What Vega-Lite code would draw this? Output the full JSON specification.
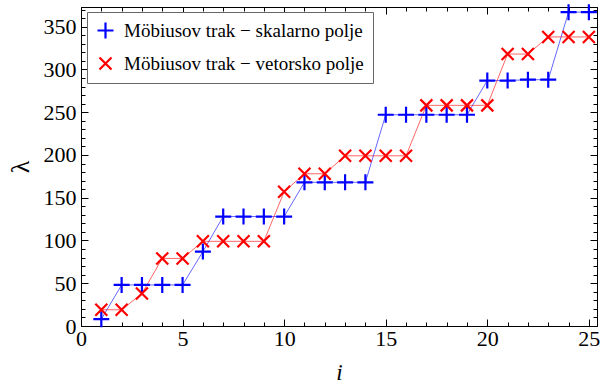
{
  "$schema": "https://vega.github.io/schema/vega-lite/v6.json",
  "width": 516,
  "height": 319,
  "autosize": "none",
  "padding": {"left": 81, "top": 7, "right": 4, "bottom": 59},
  "background": "white",
  "config": {
    "view": {"stroke": "black", "strokeWidth": 1},
    "font": "Liberation Serif",
    "axis": {
      "domainColor": "black",
      "tickColor": "black",
      "labelColor": "black",
      "titleColor": "black",
      "labelFont": "Liberation Serif",
      "titleFont": "Liberation Serif",
      "labelFontSize": 22,
      "titleFontWeight": "normal",
      "grid": false
    },
    "legend": {
      "orient": "none", "legendX": 6, "legendY": 5,
      "labelFont": "Liberation Serif", "labelFontSize": 19, "labelColor": "black",
      "labelLimit": 400,
      "fillColor": "white", "strokeColor": "#666666",
      "padding": 9, "rowPadding": 10, "labelOffset": 9,
      "symbolSize": 256, "symbolStrokeWidth": 2.2
    }
  },
  "data": {
    "values": [
      {"i": 1, "lambda": 8, "series": "Möbiusov trak − skalarno polje"},
      {"i": 2, "lambda": 48, "series": "Möbiusov trak − skalarno polje"},
      {"i": 3, "lambda": 48, "series": "Möbiusov trak − skalarno polje"},
      {"i": 4, "lambda": 48, "series": "Möbiusov trak − skalarno polje"},
      {"i": 5, "lambda": 48, "series": "Möbiusov trak − skalarno polje"},
      {"i": 6, "lambda": 87, "series": "Möbiusov trak − skalarno polje"},
      {"i": 7, "lambda": 128, "series": "Möbiusov trak − skalarno polje"},
      {"i": 8, "lambda": 128, "series": "Möbiusov trak − skalarno polje"},
      {"i": 9, "lambda": 128, "series": "Möbiusov trak − skalarno polje"},
      {"i": 10, "lambda": 128, "series": "Möbiusov trak − skalarno polje"},
      {"i": 11, "lambda": 168, "series": "Möbiusov trak − skalarno polje"},
      {"i": 12, "lambda": 168, "series": "Möbiusov trak − skalarno polje"},
      {"i": 13, "lambda": 168, "series": "Möbiusov trak − skalarno polje"},
      {"i": 14, "lambda": 168, "series": "Möbiusov trak − skalarno polje"},
      {"i": 15, "lambda": 247, "series": "Möbiusov trak − skalarno polje"},
      {"i": 16, "lambda": 247, "series": "Möbiusov trak − skalarno polje"},
      {"i": 17, "lambda": 247, "series": "Möbiusov trak − skalarno polje"},
      {"i": 18, "lambda": 247, "series": "Möbiusov trak − skalarno polje"},
      {"i": 19, "lambda": 247, "series": "Möbiusov trak − skalarno polje"},
      {"i": 20, "lambda": 287, "series": "Möbiusov trak − skalarno polje"},
      {"i": 21, "lambda": 287, "series": "Möbiusov trak − skalarno polje"},
      {"i": 22, "lambda": 288, "series": "Möbiusov trak − skalarno polje"},
      {"i": 23, "lambda": 288, "series": "Möbiusov trak − skalarno polje"},
      {"i": 24, "lambda": 367, "series": "Möbiusov trak − skalarno polje"},
      {"i": 25, "lambda": 367, "series": "Möbiusov trak − skalarno polje"},
      {"i": 1, "lambda": 19, "series": "Möbiusov trak − vetorsko polje"},
      {"i": 2, "lambda": 19, "series": "Möbiusov trak − vetorsko polje"},
      {"i": 3, "lambda": 38, "series": "Möbiusov trak − vetorsko polje"},
      {"i": 4, "lambda": 79, "series": "Möbiusov trak − vetorsko polje"},
      {"i": 5, "lambda": 79, "series": "Möbiusov trak − vetorsko polje"},
      {"i": 6, "lambda": 99, "series": "Möbiusov trak − vetorsko polje"},
      {"i": 7, "lambda": 99, "series": "Möbiusov trak − vetorsko polje"},
      {"i": 8, "lambda": 99, "series": "Möbiusov trak − vetorsko polje"},
      {"i": 9, "lambda": 99, "series": "Möbiusov trak − vetorsko polje"},
      {"i": 10, "lambda": 157, "series": "Möbiusov trak − vetorsko polje"},
      {"i": 11, "lambda": 178, "series": "Möbiusov trak − vetorsko polje"},
      {"i": 12, "lambda": 178, "series": "Möbiusov trak − vetorsko polje"},
      {"i": 13, "lambda": 199, "series": "Möbiusov trak − vetorsko polje"},
      {"i": 14, "lambda": 199, "series": "Möbiusov trak − vetorsko polje"},
      {"i": 15, "lambda": 199, "series": "Möbiusov trak − vetorsko polje"},
      {"i": 16, "lambda": 199, "series": "Möbiusov trak − vetorsko polje"},
      {"i": 17, "lambda": 258, "series": "Möbiusov trak − vetorsko polje"},
      {"i": 18, "lambda": 258, "series": "Möbiusov trak − vetorsko polje"},
      {"i": 19, "lambda": 258, "series": "Möbiusov trak − vetorsko polje"},
      {"i": 20, "lambda": 258, "series": "Möbiusov trak − vetorsko polje"},
      {"i": 21, "lambda": 318, "series": "Möbiusov trak − vetorsko polje"},
      {"i": 22, "lambda": 318, "series": "Möbiusov trak − vetorsko polje"},
      {"i": 23, "lambda": 338, "series": "Möbiusov trak − vetorsko polje"},
      {"i": 24, "lambda": 338, "series": "Möbiusov trak − vetorsko polje"},
      {"i": 25, "lambda": 338, "series": "Möbiusov trak − vetorsko polje"}
    ]
  },
  "resolve": {"axis": {"x": "independent", "y": "independent"}},
  "layer": [
    {
      "mark": {"type": "line", "strokeWidth": 1, "opacity": 0.6},
      "encoding": {
        "x": {
          "field": "i", "type": "quantitative",
          "scale": {"domain": [0, 25.4], "nice": false, "zero": false},
          "axis": {
            "orient": "bottom", "title": "i", "titleFontStyle": "italic", "titleFontSize": 23,
            "titlePadding": 9,
            "values": [0,1,2,3,4,5,6,7,8,9,10,11,12,13,14,15,16,17,18,19,20,21,22,23,24,25],
            "labelExpr": "datum.value % 5 === 0 ? datum.label : ''",
            "labelFontSize": 22,
            "tickSize": {"condition": {"test": "datum.value % 5 === 0", "value": -7}, "value": -4},
            "labelPadding": 9,
            "labelFlush": false,
            "labelOverlap": false
          }
        },
        "y": {
          "field": "lambda", "type": "quantitative",
          "scale": {"domain": [0, 373], "nice": false},
          "axis": {
            "orient": "left", "title": "λ", "titleFontSize": 26, "titlePadding": 10, "titleAngle": 270,
            "values": [0,10,20,30,40,50,60,70,80,90,100,110,120,130,140,150,160,170,180,190,200,210,220,230,240,250,260,270,280,290,300,310,320,330,340,350,360,370],
            "labelExpr": "datum.value % 50 === 0 ? datum.label : ''",
            "labelFontSize": 22,
            "tickSize": {"condition": {"test": "datum.value % 50 === 0", "value": -7}, "value": -4},
            "labelPadding": 12,
            "labelFlush": false,
            "labelOverlap": false
          }
        },
        "stroke": {
          "field": "series", "type": "nominal",
          "scale": {"range": ["#0000ff", "#ff0000"]},
          "legend": null
        }
      }
    },
    {
      "mark": {"type": "point", "filled": false, "strokeWidth": 2.2, "size": 256, "opacity": 1},
      "encoding": {
        "x": {
          "field": "i", "type": "quantitative",
          "axis": {
            "orient": "top", "title": null, "labels": false,
            "values": [0,1,2,3,4,5,6,7,8,9,10,11,12,13,14,15,16,17,18,19,20,21,22,23,24,25],
            "tickSize": {"condition": {"test": "datum.value % 5 === 0", "value": -7}, "value": -4}
          }
        },
        "y": {
          "field": "lambda", "type": "quantitative",
          "axis": {
            "orient": "right", "title": null, "labels": false,
            "values": [0,10,20,30,40,50,60,70,80,90,100,110,120,130,140,150,160,170,180,190,200,210,220,230,240,250,260,270,280,290,300,310,320,330,340,350,360,370],
            "tickSize": {"condition": {"test": "datum.value % 50 === 0", "value": -7}, "value": -4}
          }
        },
        "color": {
          "field": "series", "type": "nominal", "title": null,
          "scale": {"range": ["#0000ff", "#ff0000"]}
        },
        "shape": {
          "field": "series", "type": "nominal", "title": null,
          "scale": {"range": ["M-1,0L1,0M0,-1L0,1", "M-0.75,-0.75L0.75,0.75M-0.75,0.75L0.75,-0.75"]}
        }
      }
    }
  ]
}
